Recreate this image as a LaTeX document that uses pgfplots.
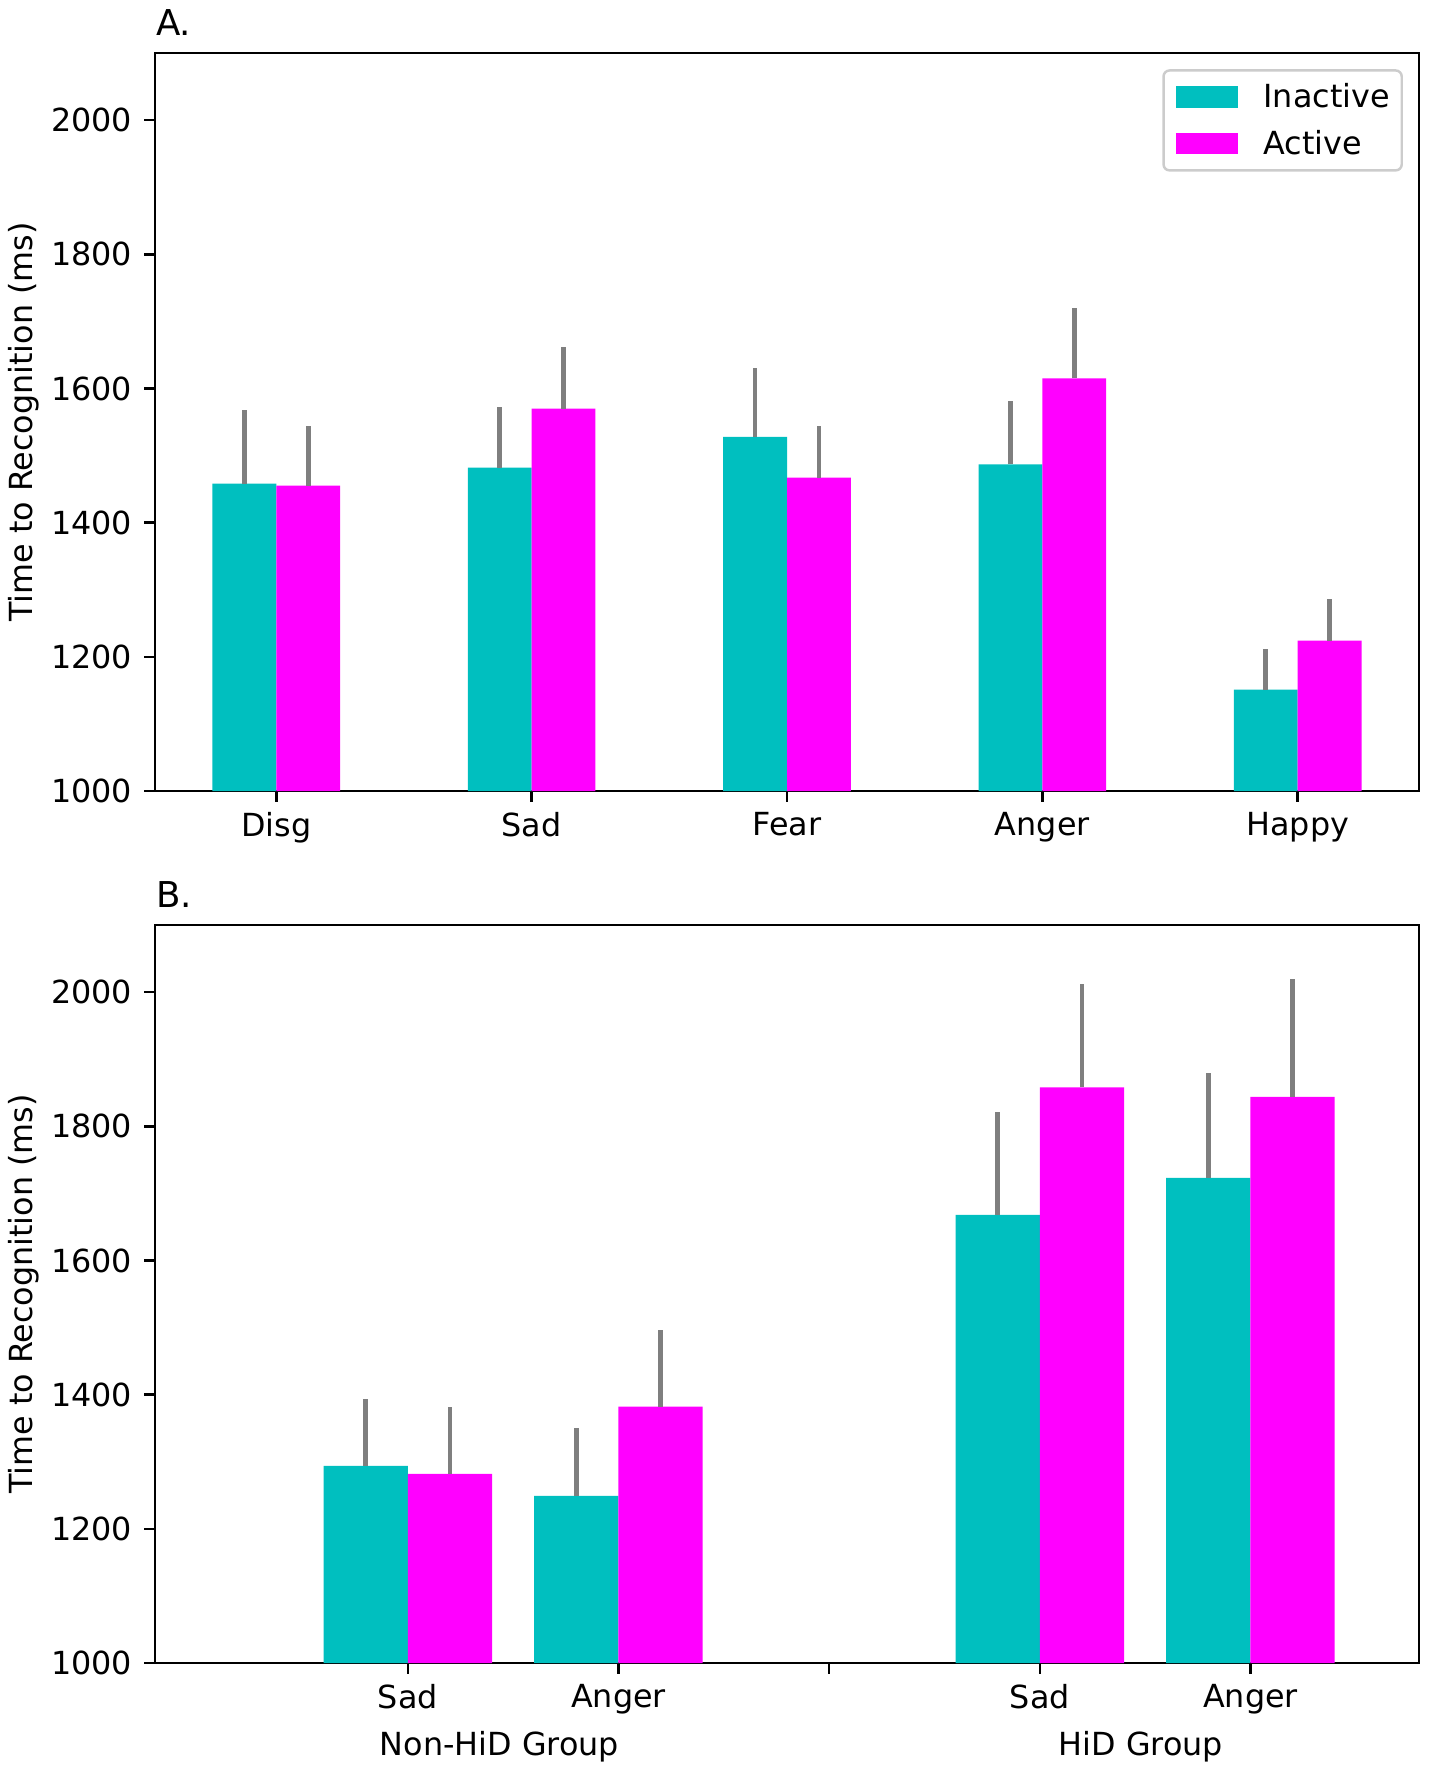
\documentclass[border=0pt]{standalone}
\usepackage{fontspec}
\setmainfont{DejaVu Sans}
\usepackage{pgfplots}
\usepackage{pgfplotstable}
\pgfplotsset{compat=1.18}
\definecolor{cc}{HTML}{00BFBF}
\definecolor{mm}{HTML}{FF00FF}
\definecolor{eg}{HTML}{7F7F7F}
\newcommand\ff{\fontsize{15.9pt}{19pt}\selectfont}
\newcommand\tf{\fontsize{17.8pt}{21pt}\selectfont}

% Panel A: x = bar centre, y = mean, e = upper error
\pgfplotstableread{
x y e
-0.125 1458 110
0.875 1482 90
1.875 1528 102
2.875 1487 94
3.875 1151 60
}\Ainact
\pgfplotstableread{
x y e
0.125 1455 89
1.125 1570 92
2.125 1467 77
3.125 1615 105
4.125 1224 62
}\Aact
% Panel B
\pgfplotstableread{
x y e
-0.2 1294 99
0.8 1249 101
2.8 1668 153
3.8 1723 157
}\Binact
\pgfplotstableread{
x y e
0.2 1282 100
1.2 1382 114
3.2 1858 154
4.2 1844 176
}\Bact

\pgfplotsset{
  myaxis/.style={
    scale only axis, width=632pt, height=369pt,
    ymin=1000, ymax=2100, ytick={1000,1200,...,2000},
    line width=1.23pt,
    tick align=outside, tick pos=left, major tick length=5.4pt,
    every tick/.style={black, line width=1.23pt},
    tick label style={font=\ff},
    xticklabel style={anchor=north, inner sep=0pt, yshift=-4.8pt},
    yticklabel style={anchor=east, inner sep=0pt, xshift=-5.4pt},
    /pgf/number format/assume math mode=true,
    /pgf/number format/set thousands separator={},
    label style={font=\ff},
    ylabel={Time to Recognition (ms)},
    ylabel style={at={(axis description cs:-0.1035,0.5)}, anchor=center, inner sep=0pt},
    every axis title/.style={font=\tf, at={(axis description cs:0,1)}, anchor=base west, inner sep=0pt, yshift=9pt},
  },
  barsty/.style={ybar, bar shift=0pt, draw=none, fill=#1},
  errsty/.style={draw=none, forget plot,
    error bars/.cd, y dir=plus, y explicit, error mark=none,
    error bar style={draw=eg, line width=2.3pt, solid}},
}

\begin{document}
\begin{tikzpicture}
\path[use as bounding box] (0,0) rectangle (714.5pt,-883.5pt);

\begin{axis}[myaxis,
  at={(77.5pt,-395.5pt)}, anchor=south west,
  title={A.},
  xmin=-0.475, xmax=4.475,
  xtick={0,1,2,3,4},
  xticklabels={Disg,Sad,Fear,Anger,Happy},
  legend style={at={(axis description cs:0.9873,0.978)}, anchor=north east,
    draw=black!20, line width=1.23pt, rounded corners=3pt, fill=white,
    font=\ff, inner xsep=6pt, inner ysep=6.6pt, row sep=9.6pt,
    nodes={inner sep=0pt},
    /tikz/every odd column/.append style={column sep=12.6pt}},
  legend cell align=left,
  legend image code/.code={\fill[#1, sharp corners] (0pt,-5.4pt) rectangle (31.4pt,5.4pt);},
]
\addplot[barsty=cc, bar width=0.25] table[x=x,y=y] {\Ainact};
\addlegendentry{Inactive}
\addplot[barsty=mm, bar width=0.25] table[x=x,y=y] {\Aact};
\addlegendentry{Active}
\addplot[errsty] table[x=x,y=y,y error=e] {\Ainact};
\addplot[errsty] table[x=x,y=y,y error=e] {\Aact};
\end{axis}

\begin{axis}[myaxis,
  at={(77.5pt,-831.5pt)}, anchor=south west,
  title={B.},
  xmin=-1.2, xmax=4.8,
  xtick={0,1,2,3,4},
  xticklabels={Sad,Anger,,Sad,Anger},
  extra x ticks={0.435,3.48},
  extra x tick labels={Non-HiD Group,HiD Group},
  extra x tick style={major tick length=0pt, tick style={draw=none},
    xticklabel style={yshift=-28.8pt}},
]
\addplot[barsty=cc, bar width=0.4] table[x=x,y=y] {\Binact};
\addplot[barsty=mm, bar width=0.4] table[x=x,y=y] {\Bact};
\addplot[errsty] table[x=x,y=y,y error=e] {\Binact};
\addplot[errsty] table[x=x,y=y,y error=e] {\Bact};
\end{axis}
\end{tikzpicture}
\end{document}
